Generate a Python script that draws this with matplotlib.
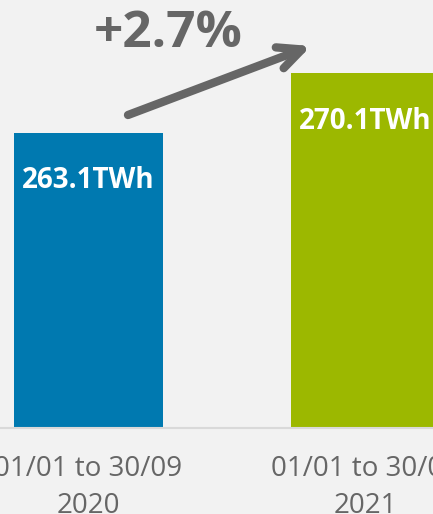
import matplotlib.pyplot as plt

# Data
periods = ['01/01 to 30/09\n2020', '01/01 to 30/09\n2021']
values = [263.1, 270.1]
bar_labels = ['263.1TWh', '270.1TWh']
colors = ['#0079b0', '#9cb800']
change = '+2.7%'

plt.rcParams['font.family'] = ['Open Sans', 'DejaVu Sans']

fig = plt.figure(figsize=(4.33, 5.14), dpi=100, facecolor='#f2f2f2')
ax = fig.add_axes([0, 0.167, 1, 0.833])
ax.set_facecolor('#f2f2f2')

x = range(len(values))
bars = ax.bar(x, values, width=0.538, color=colors, zorder=2)
ax.set_xlim(-0.3195, 1.2437)
ax.set_ylim(228.1, 278.8)

# value labels inside bars
for b, lab in zip(bars, bar_labels):
    ax.annotate(lab, (b.get_x() + b.get_width() / 2, b.get_height()),
                xytext=(0, -24), textcoords='offset points',
                ha='center', va='top', color='white',
                fontsize=20, fontweight='bold')

ax.set_xticks(list(x))
ax.set_xticklabels(periods, fontsize=20, color='#666666', linespacing=1.45)
ax.tick_params(axis='x', length=0, pad=19)
ax.set_yticks([])
for s in ['top', 'right', 'left']:
    ax.spines[s].set_visible(False)
ax.spines['bottom'].set_color('#d9d9d9')
ax.spines['bottom'].set_linewidth(1.5)

# growth arrow
ax.annotate('', xy=(311 / 433, 1 - 46 / 514), xycoords='figure fraction',
            xytext=(128 / 433, 1 - 115 / 514), textcoords='figure fraction',
            arrowprops=dict(arrowstyle='->,head_length=1.7,head_width=0.8',
                            color='#666666', lw=6, capstyle='round',
                            joinstyle='round', shrinkA=0, shrinkB=0))
fig.text(168 / 433, 1 - 34 / 514, change, ha='center', va='center',
         fontsize=37, fontweight='bold', color='#666666')

fig.savefig('out.png', dpi=100, facecolor=fig.get_facecolor())
